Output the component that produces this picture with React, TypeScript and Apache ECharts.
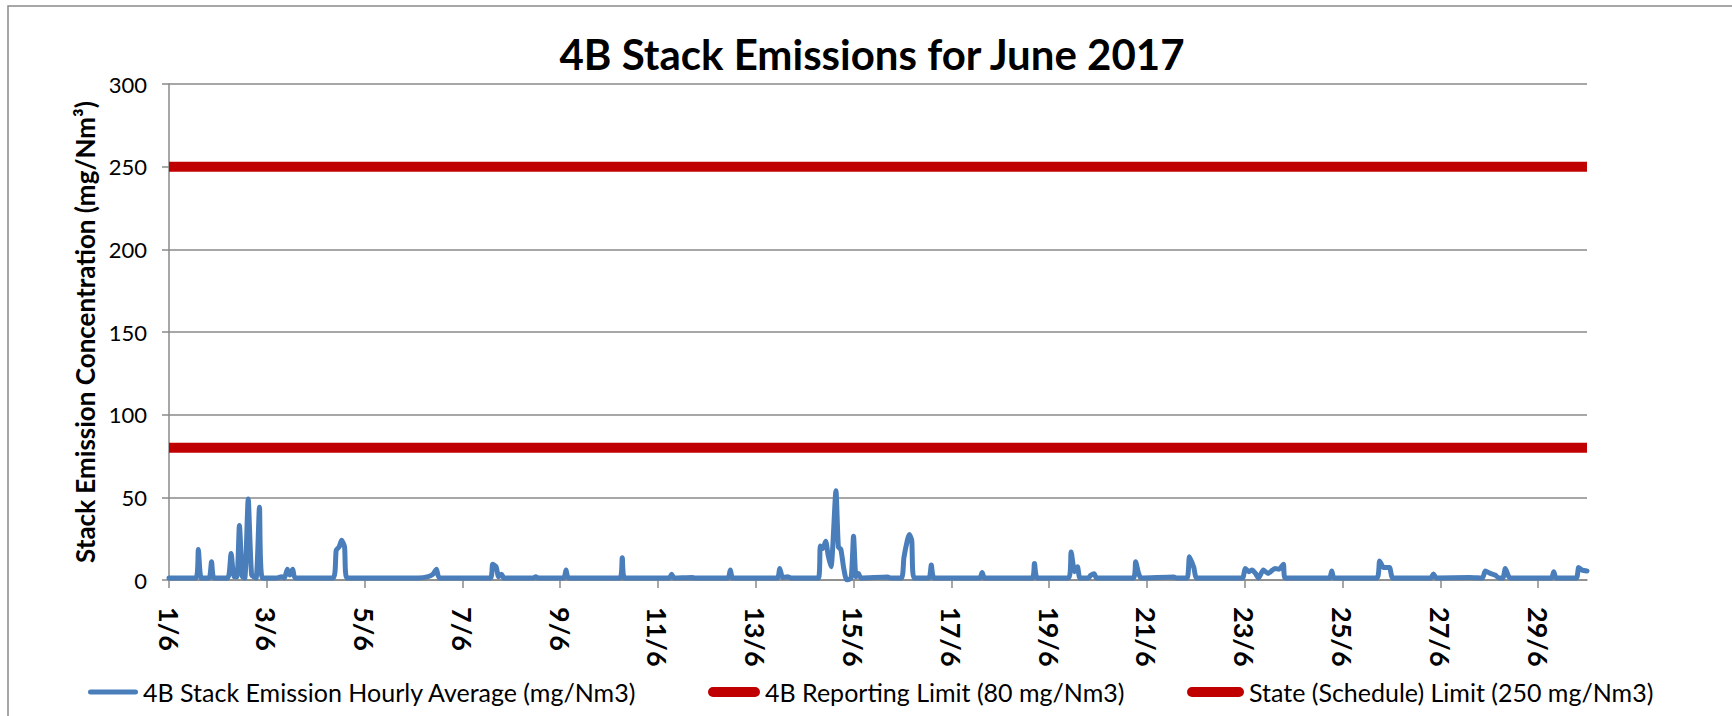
import React, { useEffect, useRef } from "react";
import * as echarts from "echarts";

// ---- data ----
const chartTitle = "4B Stack Emissions for June 2017";
const yAxisName = "Stack Emission Concentration (mg/Nm³)";
const seriesNames = [
  "4B Stack Emission Hourly Average (mg/Nm3)",
  "4B Reporting Limit (80 mg/Nm3)",
  "State (Schedule) Limit (250 mg/Nm3)",
];
// x: days after 1/6 00:00, y: mg/Nm3
const xTickLabels = [
  "1/6", "3/6", "5/6", "7/6", "9/6", "11/6", "13/6", "15/6",
  "17/6", "19/6", "21/6", "23/6", "25/6", "27/6", "29/6",
];
const xTickStep = 2;
const xRange = [0, 29];
const yRange = [0, 300];
const yStep = 50;
const reportingLimit = 80;
const stateLimit = 250;

const emissionHourly: [number, number][] = [
  [0, 1.2], [0.55, 1.2], [0.6, 18.5], [0.66, 1.2],
  [0.82, 1.2], [0.87, 11], [0.92, 1.2],
  [1.2, 1.2], [1.27, 16], [1.33, 2],
  [1.39, 2], [1.44, 33], [1.5, 2],
  [1.55, 1.2], [1.62, 49], [1.69, 3],
  [1.78, 1.2], [1.85, 44], [1.91, 1.2],
  [2.2, 1.2], [2.3, 2], [2.36, 1.2], [2.42, 6.5], [2.47, 3], [2.53, 6.5], [2.58, 1.2],
  [3.35, 1.2], [3.42, 18], [3.48, 20], [3.53, 24], [3.59, 20], [3.64, 1.2],
  [5.1, 1.2], [5.3, 2], [5.4, 3.5], [5.47, 6.5], [5.53, 1.2],
  [6.57, 1.2], [6.62, 9.5], [6.69, 8], [6.74, 2], [6.8, 3.5], [6.85, 1.2],
  [7.45, 1.2], [7.5, 2], [7.55, 1.2],
  [8.07, 1.2], [8.12, 6], [8.17, 1.2],
  [9.22, 1.2], [9.27, 13.5], [9.32, 1.2],
  [10.23, 1.2], [10.28, 3.5], [10.33, 1.2],
  [10.7, 1.5], [10.75, 1.2],
  [11.43, 1.2], [11.48, 6], [11.53, 1.2],
  [12.44, 1.2], [12.49, 7], [12.55, 1.5], [12.65, 2], [12.72, 1.2],
  [13.28, 1.2], [13.32, 20.5], [13.37, 19], [13.43, 23.5], [13.48, 15], [13.54, 8],
  [13.64, 54], [13.69, 20], [13.74, 18.5], [13.8, 7], [13.86, 0], [13.95, 1.2],
  [14.0, 26.5], [14.05, 2], [14.1, 4], [14.15, 1.2],
  [14.7, 1.8], [14.75, 1.2],
  [14.98, 1.2], [15.03, 13.5], [15.1, 24], [15.14, 27.5], [15.19, 24], [15.24, 1.2],
  [15.54, 1.2], [15.59, 9], [15.65, 1.2],
  [16.58, 1.2], [16.63, 4.5], [16.68, 1.2],
  [17.65, 1.2], [17.7, 10], [17.76, 1.2],
  [18.4, 1.2], [18.45, 17], [18.52, 5], [18.58, 8], [18.63, 1.2],
  [18.8, 1.2], [18.85, 2.8], [18.92, 3.8], [18.97, 1.2],
  [19.72, 1.2], [19.77, 11], [19.83, 4], [19.88, 1.2],
  [20.55, 1.8], [20.6, 1.2],
  [20.82, 1.2], [20.87, 14], [20.96, 7.5], [21.02, 1.2],
  [21.95, 1.2], [22.01, 7], [22.08, 5], [22.15, 6], [22.22, 4], [22.28, 1.2],
  [22.38, 6], [22.48, 4], [22.62, 7], [22.7, 6.5], [22.79, 9.5], [22.83, 1.2],
  [23.73, 1.2], [23.78, 5.5], [23.83, 1.2],
  [24.7, 1.2], [24.76, 11.5], [24.84, 7.5], [24.96, 7.5], [25.03, 1.2],
  [25.8, 1.2], [25.86, 3.7], [25.92, 1.2],
  [26.6, 1.5], [26.86, 1.2], [26.92, 5.5], [27.02, 4], [27.12, 3], [27.2, 1.2],
  [27.28, 1.2], [27.33, 7], [27.4, 2], [27.45, 1.2],
  [28.27, 1.2], [28.32, 5], [28.37, 1.2],
  [28.78, 1.2], [28.83, 7.5], [28.9, 6], [29.0, 5.5],
];

const BLUE = "#4A7EBB";
const RED = "#C00000";
const GRAY = "#8A8A8A";
const FONT = "Lato";

function capsule(w: number, h: number) {
  const r = h / 2;
  return `path://M0,${r}A${r},${r} 0 0 1 ${r},0H${w - r}A${r},${r} 0 0 1 ${w - r},${h}H${r}A${r},${r} 0 0 1 0,${r}Z`;
}

export default function App() {
  const ref = useRef<HTMLDivElement>(null);

  useEffect(() => {
    if (!ref.current) return;
    const chart = echarts.init(ref.current, undefined, { renderer: "svg" });
    const tickValues = xTickLabels.map((_, i) => i * xTickStep);

    const legendBase = {
      orient: "horizontal",
      padding: 0,
      top: 677,
      itemStyle: { borderWidth: 0 },
      textStyle: { fontFamily: FONT, fontSize: 25, lineHeight: 30, color: "#000" },
      selectedMode: false,
    };

    chart.setOption({
      animation: false,
      backgroundColor: "#fff",
      textStyle: { fontFamily: FONT },
      title: {
        text: chartTitle,
        left: 872,
        top: 32,
        textAlign: "center",
        padding: 0,
        textStyle: { fontFamily: FONT, fontSize: 42, fontWeight: "bold", color: "#000", lineHeight: 44 },
      },
      graphic: [
        {
          type: "rect",
          shape: { x: 8, y: 6, width: 1800, height: 800 },
          style: { fill: "none", stroke: GRAY, lineWidth: 1.5 },
          silent: true,
          z: -10,
        },
      ],
      legend: [
        { ...legendBase, left: 88, itemWidth: 50, itemHeight: 5, data: [{ name: seriesNames[0], icon: capsule(50, 5) }] },
        { ...legendBase, left: 708, itemWidth: 52, itemHeight: 10, data: [{ name: seriesNames[1], icon: capsule(52, 10) }] },
        { ...legendBase, left: 1187, itemWidth: 57, itemHeight: 10, data: [{ name: seriesNames[2], icon: capsule(57, 10) }] },
      ],
      grid: { left: 169, right: 145, top: 84, bottom: 136, containLabel: false },
      xAxis: {
        type: "value",
        min: xRange[0],
        max: xRange[1],
        interval: xTickStep,
        splitLine: { show: false },
        axisLine: { show: true, onZero: false, lineStyle: { color: GRAY, width: 1.5 } },
        axisTick: { show: true, length: 8, lineStyle: { color: GRAY, width: 1.5 }, customValues: tickValues },
        axisLabel: {
          customValues: tickValues,
          rotate: -90,
          margin: 27,
          color: "#000",
          fontFamily: FONT,
          fontSize: 27,
          fontWeight: "bold",
          formatter: (v: number) => xTickLabels[Math.round(v / xTickStep)] ?? "",
        },
      },
      yAxis: {
        type: "value",
        min: yRange[0],
        max: yRange[1],
        interval: yStep,
        name: yAxisName,
        nameLocation: "middle",
        nameGap: 70,
        nameTextStyle: { fontFamily: FONT, fontSize: 26, fontWeight: "bold", color: "#000" },
        axisLine: { show: true, lineStyle: { color: GRAY, width: 1.5 } },
        axisTick: { show: true, length: 7, lineStyle: { color: GRAY, width: 1.5 } },
        splitLine: { show: true, lineStyle: { color: GRAY, width: 1.5 } },
        axisLabel: { margin: 22, color: "#000", fontFamily: FONT, fontSize: 22 },
      },
      series: [
        {
          name: seriesNames[0],
          type: "line",
          data: emissionHourly,
          symbol: "none",
          smooth: 0.2,
          color: BLUE,
          lineStyle: { color: BLUE, width: 5, cap: "round", join: "round" },
          z: 3,
        },
        {
          name: seriesNames[1],
          type: "line",
          data: [[xRange[0], reportingLimit], [xRange[1], reportingLimit]],
          symbol: "none",
          color: RED,
          lineStyle: { color: RED, width: 10 },
          z: 4,
        },
        {
          name: seriesNames[2],
          type: "line",
          data: [[xRange[0], stateLimit], [xRange[1], stateLimit]],
          symbol: "none",
          color: RED,
          lineStyle: { color: RED, width: 10 },
          z: 4,
        },
      ],
    });

    return () => chart.dispose();
  }, []);

  return (
    <div
      ref={ref}
      style={{ position: "absolute", left: 0, top: 0, width: 1732, height: 716 }}
    />
  );
}
